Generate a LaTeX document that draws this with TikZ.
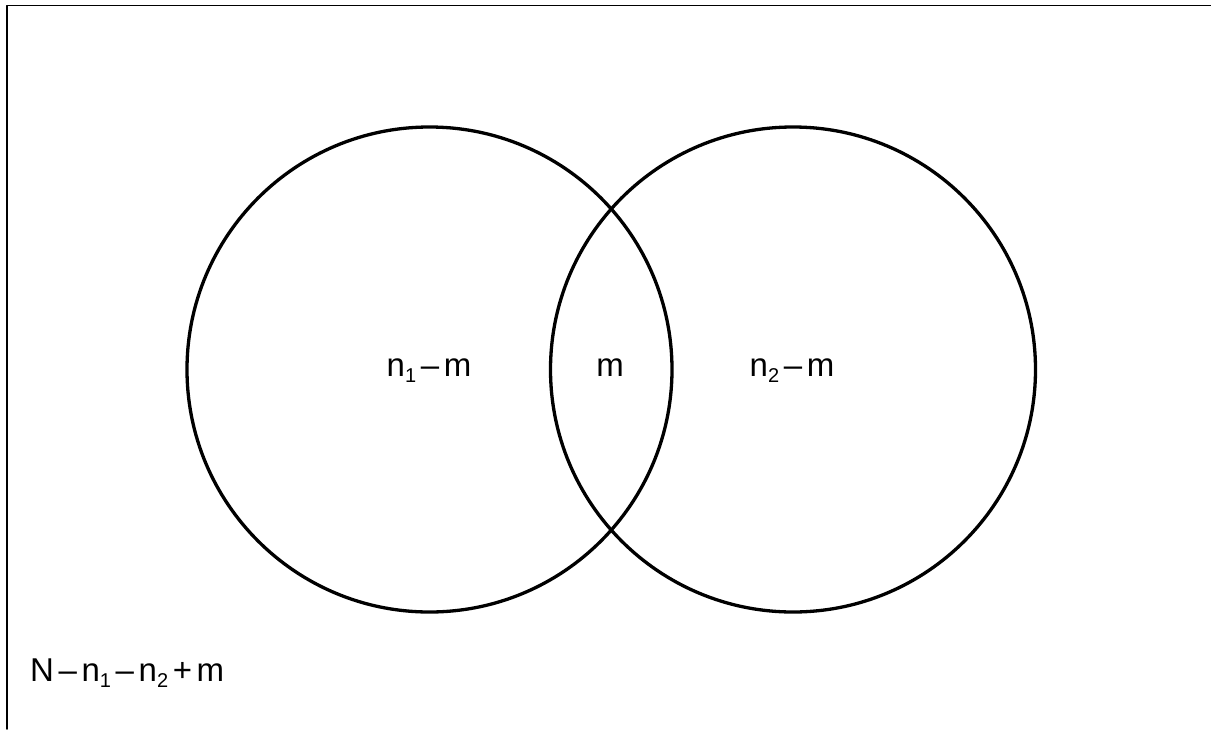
\documentclass[tikz,border=0pt]{standalone}
\usepackage{fontspec}
\setmainfont{Liberation Sans}
\usetikzlibrary{positioning}

\newcommand{\idx}[1]{\raisebox{-0.19em}{\fontsize{20}{22}\selectfont #1}}
\newcommand{\op}[1]{\hspace{0.14em}#1\hspace{0.14em}}

\begin{document}
\begin{tikzpicture}[
		x=1pt,
		y=-1pt,
		line cap=round,
		line join=round,
		set/.style={circle, draw, line width=3.3pt, minimum size=485pt, inner sep=0pt},
		lbl/.style={font=\fontsize{33}{36}\selectfont, inner sep=0pt, anchor=base},
		frame/.style={line width=1.6pt}
		]
		
		\useasboundingbox (0,0) rectangle (1211,729);
		
		%------------------------------------------------------------------
		% Coordinates
		%------------------------------------------------------------------
		\coordinate (tl) at (   7,   5.5);
		\coordinate (tr) at (1211,   5.5);
		\coordinate (bl) at (   7, 729);
		
		%------------------------------------------------------------------
		% Frame (top and left only)
		%------------------------------------------------------------------
		\draw[frame] (tr) -- (tl) -- (bl);
		
		%------------------------------------------------------------------
		% The two sets
		%------------------------------------------------------------------
		\node[set] (setA) at (429.5, 369.5) {};
		\node[set] (setB) at (793.0, 369.5) {};
		
		%------------------------------------------------------------------
		% Labels
		%------------------------------------------------------------------
		\node[lbl] (onlyA) at (429, 376) {n\idx{1}\op{–}m};
		\node[lbl] (both)  at (610, 376) {m};
		\node[lbl] (onlyB) at (792, 376) {n\idx{2}\op{–}m};
		
		\node[lbl, anchor=base west] (rest) at (30, 681)
		{N\op{–}n\idx{1}\op{–}n\idx{2}\op{+}m};
		
	\end{tikzpicture}
\end{document}
